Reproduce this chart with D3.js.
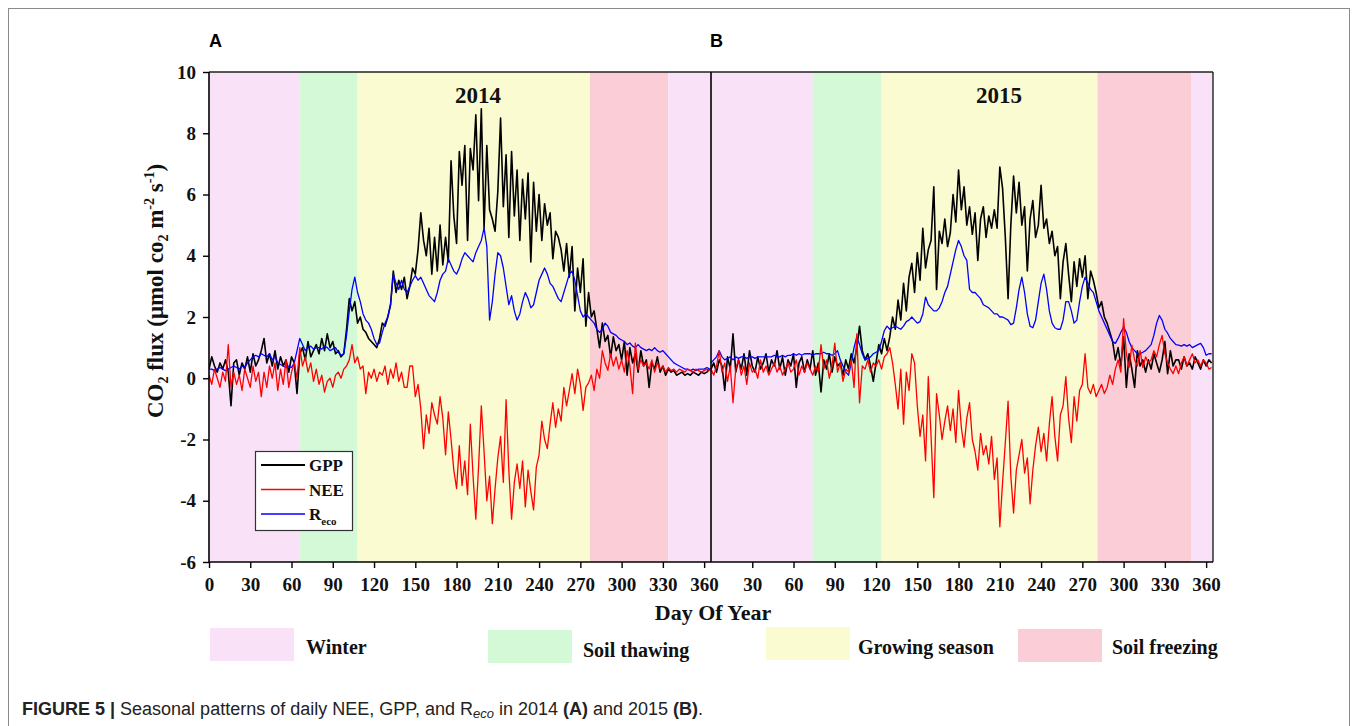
<!DOCTYPE html>
<html>
<head>
<meta charset="utf-8">
<script src="https://cdn.jsdelivr.net/npm/d3@7"></script>
<style>
  body { margin: 0; background: #fff; }
  svg { display: block; }
</style>
</head>
<body>
<svg id="chart" width="1357" height="726"></svg>
<script>
// ---- Daily CO2 fluxes (µmol CO2 m-2 s-1), sampled every second day of year ----
const sampleDays = d3.range(0, 366, 2);

const gpp2014 = [
  0.3,0.7,0.4,0.2,0.5,0.3,0.6,0.2,-0.9,0.5,
  0.6,0.1,0.5,0.3,0.7,0.2,0.8,0.4,0.6,0.9,
  1.3,0.5,0.8,0.4,0.9,0.3,0.7,0.4,0.6,0.2,
  0.7,0.5,-0.5,0.8,1.0,0.6,1.2,0.7,0.9,1.1,
  0.8,1.3,0.9,1.45,1.0,1.2,0.8,0.9,0.7,0.8,
  1.6,2.6,2.2,2.5,1.8,2.0,1.6,1.5,1.3,1.2,
  1.1,1.0,1.3,1.8,1.7,2.0,2.4,3.5,2.8,3.2,
  2.9,3.3,2.6,3.0,3.6,3.4,4.2,5.4,4.5,4.0,
  4.9,3.4,4.6,3.5,5.0,3.7,4.6,3.8,7.1,5.3,
  4.4,7.4,6.3,7.6,4.5,7.5,6.8,8.6,5.8,8.8,
  4.9,7.6,5.5,5.2,4.8,6.1,8.5,5.6,7.3,4.6,
  7.4,5.3,6.8,4.5,6.5,5.2,6.7,3.8,6.4,4.8,
  6.0,4.5,5.7,5.0,5.4,3.9,4.8,4.6,4.2,3.5,
  4.4,3.3,4.3,2.2,3.6,2.8,3.9,1.7,2.8,2.0,
  2.2,1.6,1.0,1.8,1.2,1.4,0.7,1.35,0.9,1.1,
  0.6,1.2,0.1,1.0,0.5,0.8,0.2,0.9,0.4,0.6,
  -0.3,0.5,0.3,0.7,0.2,0.4,0.1,0.3,0.2,0.25,
  0.1,0.15,0.2,0.1,0.15,0.1,0.2,0.15,0.1,0.2,
  0.15,0.2,0.3
];

const nee2014 = [
  0.1,-0.2,0.3,0.0,-0.3,0.2,-0.1,1.1,-0.3,0.2,
  -0.2,0.1,-0.4,0.3,0.0,-0.3,0.4,-0.1,0.2,-0.6,
  0.2,-0.3,0.4,0.0,0.5,-0.4,0.3,-0.2,0.6,-0.3,
  0.2,0.5,0.0,1.0,0.4,0.7,0.2,0.5,-0.1,0.3,
  -0.2,0.1,-0.45,-0.1,0.0,-0.3,0.1,0.2,0.0,0.3,
  0.4,0.6,1.1,0.5,0.7,0.3,0.4,-0.5,0.2,0.0,
  0.3,-0.1,0.2,0.1,0.4,-0.2,0.3,0.0,0.5,-0.1,
  0.2,-0.3,-0.3,0.4,0.4,-0.6,-0.2,-1.0,-2.3,-1.2,
  -1.8,-0.8,-1.2,-1.5,-0.6,-1.3,-2.5,-1.1,-2.0,-3.0,
  -3.6,-2.2,-3.5,-2.7,-3.8,-1.5,-3.2,-4.6,-2.9,-0.9,
  -2.4,-4.0,-3.2,-4.75,-3.6,-2.6,-1.9,-3.4,-0.7,-3.0,
  -4.6,-3.4,-2.8,-3.6,-2.7,-4.2,-3.0,-3.7,-4.3,-2.9,
  -2.5,-1.4,-2.0,-2.3,-1.5,-0.8,-1.6,-1.0,-1.4,-0.3,
  -0.9,-0.4,0.15,-0.5,0.3,-0.2,-1.05,-0.3,-0.15,0.1,
  -0.4,0.3,0.0,0.9,0.5,0.26,0.8,0.4,0.7,0.3,
  0.6,0.2,0.9,0.4,-0.5,1.15,0.3,0.6,0.4,0.5,
  0.3,0.6,0.2,0.5,0.3,0.4,0.2,0.35,0.25,0.3,
  0.2,0.3,0.25,0.2,0.3,0.25,0.2,0.3,0.25,0.2,
  0.25,0.3,0.25
];

const reco2014 = [
  0.3,0.3,0.25,0.3,0.35,0.3,0.25,0.3,0.35,0.4,
  0.35,0.3,0.4,0.35,0.5,0.6,0.7,0.75,0.7,0.8,
  0.75,0.7,0.8,0.6,0.7,0.5,0.45,0.4,0.35,0.4,
  0.35,0.5,0.9,1.3,1.1,0.9,1.0,1.05,0.95,1.0,
  1.0,0.95,1.05,1.0,0.9,0.95,1.0,0.85,0.75,0.8,
  1.4,2.2,2.9,3.3,2.8,2.5,2.1,1.9,1.8,1.6,
  1.3,1.1,1.15,1.5,1.8,2.0,2.4,3.4,3.1,2.9,
  3.2,2.9,2.8,3.0,3.2,3.35,3.2,3.3,3.1,2.9,
  2.7,2.6,2.5,2.8,3.2,3.4,3.5,3.9,3.7,3.5,
  3.4,3.6,3.9,4.1,4.0,3.9,3.8,4.1,4.3,4.5,
  4.9,4.3,1.9,2.5,3.4,4.1,4.0,3.6,3.0,2.4,
  2.7,2.2,1.9,2.1,2.5,2.8,2.6,2.3,2.4,2.8,
  3.2,3.4,3.6,3.4,3.1,3.0,2.8,2.6,2.5,2.8,
  3.1,3.4,3.5,3.2,2.7,2.2,2.0,2.1,2.0,1.9,
  1.8,1.6,1.5,1.6,1.8,1.7,1.5,1.45,1.4,1.3,
  1.25,1.2,1.1,1.15,1.05,1.0,1.1,1.0,0.95,0.9,
  0.95,0.9,1.0,0.9,0.85,0.9,0.8,0.7,0.6,0.5,
  0.45,0.4,0.35,0.3,0.3,0.25,0.3,0.25,0.3,0.3,
  0.3,0.35,0.3
];

const gpp2015 = [
  0.3,0.5,0.2,0.6,0.4,-0.4,0.7,0.3,1.45,0.2,
  0.6,0.3,0.8,0.1,0.9,0.4,0.2,0.7,0.3,0.5,
  0.8,0.2,0.6,0.4,0.9,0.3,0.7,0.1,0.6,0.4,
  0.8,-0.3,0.5,0.7,0.2,0.6,0.3,0.9,0.1,0.5,
  -0.45,0.6,0.3,0.8,0.2,0.7,0.4,0.5,0.1,0.6,
  0.3,0.8,0.5,1.0,1.7,0.9,0.6,0.8,0.4,-0.1,
  0.5,1.1,0.8,1.3,0.9,1.35,2.0,1.6,2.55,1.9,
  3.1,2.2,3.3,3.75,2.8,4.1,3.2,4.9,3.6,4.2,
  4.5,6.25,2.9,4.8,4.4,5.2,4.3,4.75,6.0,5.1,
  6.8,5.5,6.25,5.0,5.6,4.7,5.4,3.85,5.2,5.6,
  4.6,5.3,4.9,5.5,4.9,6.9,6.2,4.6,2.6,5.0,
  6.6,5.4,6.4,5.0,5.6,3.5,5.2,5.8,4.6,5.0,
  6.3,4.9,5.2,4.4,4.8,4.0,4.3,2.6,3.8,4.4,
  3.4,2.5,3.8,3.0,3.9,3.3,4.0,2.6,3.5,3.2,
  2.8,2.3,2.5,2.0,1.8,1.5,1.2,0.6,1.0,0.4,
  1.35,-0.3,0.8,0.3,-0.3,0.9,0.4,0.6,0.2,0.6,
  0.3,0.8,0.5,0.2,0.6,1.2,0.15,0.9,0.4,0.6,
  0.6,0.3,0.7,0.4,0.5,0.3,0.7,0.5,0.3,0.6,
  0.4,0.6,0.5
];

const nee2015 = [
  0.3,0.1,0.4,0.9,0.2,0.5,-0.1,0.4,-0.8,0.3,
  0.6,0.1,0.4,-0.2,0.5,0.2,0.3,0.0,0.6,0.2,
  0.4,0.1,0.3,0.5,0.2,0.4,0.1,0.3,0.5,0.2,
  0.3,0.6,0.1,0.4,0.2,0.5,0.3,0.1,0.4,0.2,
  1.1,0.3,0.6,0.0,0.4,1.15,0.2,0.5,-0.1,0.3,
  0.2,0.6,-0.3,1.45,-0.8,0.4,0.3,0.6,0.2,0.5,
  0.4,0.6,0.3,0.7,0.8,1.0,0.5,-0.2,-1.0,0.3,
  -1.5,0.2,-0.4,0.8,0.5,-0.9,-1.9,-1.2,-2.7,0.05,
  -1.9,-3.9,-0.5,-1.2,-2.0,-1.4,-0.9,-1.7,-1.0,-2.1,
  -0.4,-1.6,-2.25,-1.3,-0.8,-2.0,-2.4,-3.0,-1.8,-2.5,
  -2.2,-2.8,-1.9,-3.3,-2.6,-4.85,-3.4,-2.1,-0.75,-3.2,
  -4.4,-3.0,-2.5,-2.0,-3.1,-2.6,-4.1,-3.0,-2.2,-1.6,
  -2.4,-1.8,-2.7,-1.5,-0.6,-1.9,-2.7,-1.2,-0.9,0.05,
  -1.3,-2.1,-0.6,-1.4,-0.4,-0.2,0.8,-0.3,-0.5,-0.2,
  -0.6,-0.4,-0.2,-0.5,-0.3,0.1,-0.2,0.3,0.6,0.2,
  1.95,0.8,0.35,1.08,0.6,0.4,0.9,0.35,0.7,0.5,
  0.6,0.9,0.7,1.1,1.4,0.8,0.5,0.3,0.15,0.4,
  0.15,0.5,0.7,0.4,0.6,0.8,0.5,0.6,0.4,0.6,
  0.5,0.3,0.35
];

const reco2015 = [
  0.5,0.6,0.7,0.9,0.7,0.6,0.65,0.7,0.6,0.7,
  0.65,0.7,0.7,0.65,0.7,0.7,0.65,0.7,0.7,0.7,
  0.7,0.7,0.7,0.75,0.7,0.7,0.75,0.7,0.75,0.75,
  0.8,0.75,0.8,0.75,0.8,0.8,0.8,0.75,0.8,0.8,
  0.8,0.85,0.8,0.8,0.75,0.8,0.9,0.6,0.4,0.2,
  0.1,0.5,1.0,1.35,1.1,0.8,0.6,0.65,0.7,0.8,
  0.85,0.9,1.2,1.55,1.7,1.6,1.65,1.7,1.65,1.6,
  1.7,1.85,1.9,2.0,1.9,1.8,1.85,2.1,2.65,2.4,
  2.3,2.2,2.2,2.3,2.5,2.8,3.0,3.4,3.8,4.2,
  4.5,4.3,4.0,3.85,2.9,2.8,2.8,2.7,2.6,2.4,
  2.35,2.3,2.2,2.1,2.1,2.0,2.0,1.95,1.9,1.75,
  1.8,2.3,2.9,3.3,2.8,2.1,1.7,1.65,1.9,2.5,
  3.1,3.4,2.9,2.2,1.8,1.65,1.6,1.6,1.9,2.5,
  2.5,2.2,1.8,1.9,2.5,3.0,3.3,3.1,2.9,2.8,
  2.5,2.2,2.0,1.8,1.6,1.4,1.2,1.14,1.3,1.5,
  1.67,1.5,1.2,1.0,0.9,0.8,0.8,0.85,0.9,1.0,
  1.1,1.4,1.8,2.05,1.9,1.6,1.47,1.3,1.2,1.1,
  1.08,1.05,1.1,1.05,1.1,1.0,1.05,1.1,1.14,1.0,
  0.75,0.8,0.8
];

// ---- Seasonal periods (day-of-year boundaries) ----
const seasonNames = ["Winter", "Soil thawing", "Growing season", "Soil freezing", "Winter"];
const seasonBounds2014 = [0, 66, 108, 277, 334, 365];
const seasonBounds2015 = [0, 74, 124, 281, 349, 365];
const legendSeasons = ["Winter", "Soil thawing", "Growing season", "Soil freezing"];

// ---- Axis ticks ----
const yTicks = [-6, -4, -2, 0, 2, 4, 6, 8, 10];
const xTicksA = [0, 30, 60, 90, 120, 150, 180, 210, 240, 270, 300, 330, 360];
const xTicksB = [30, 60, 90, 120, 150, 180, 210, 240, 270, 300, 330, 360];

// ---- Styling ----
const seasonColor = {
  "Winter": "#f9e1f8",
  "Soil thawing": "#d3f9d6",
  "Growing season": "#fafbd0",
  "Soil freezing": "#fbcdd6"
};
const SERIF = "'Liberation Serif','Times New Roman',serif";
const SANS = "'Liberation Sans',Arial,Helvetica,sans-serif";
const plainNumber = d => String(d);   // hyphen-minus, as in the printed figure

const svg = d3.select("#chart");

const plot = { left: 209, mid: 711, right: 1213, top: 72, bottom: 562 };

const y = d3.scaleLinear().domain([-6, 10]).range([plot.bottom, plot.top]);
const xA = d3.scaleLinear().domain([0, 365]).range([plot.left, plot.mid]);
const xB = d3.scaleLinear().domain([0, 365]).range([plot.mid, plot.right]);

// outer figure frame
svg.append("rect")
  .attr("x", 8.5).attr("y", 8.5)
  .attr("width", 1341).attr("height", 740)
  .attr("fill", "none").attr("stroke", "#8a8a8a").attr("stroke-width", 1);

// clip path for the data area
svg.append("defs").append("clipPath").attr("id", "plotClip")
  .append("rect")
  .attr("x", plot.left).attr("y", plot.top)
  .attr("width", plot.right - plot.left).attr("height", plot.bottom - plot.top);

function drawPanel(xScale, bounds, gpp, nee, reco) {
  const g = svg.append("g");
  // season bands
  const bands = seasonNames.map((name, i) => ({ name, start: bounds[i], end: bounds[i + 1] }));
  g.selectAll("rect.band").data(bands).join("rect")
    .attr("class", "band")
    .attr("x", d => xScale(d.start))
    .attr("y", plot.top)
    .attr("width", d => xScale(d.end) - xScale(d.start))
    .attr("height", plot.bottom - plot.top)
    .attr("fill", d => seasonColor[d.name]);

  const lines = g.append("g").attr("clip-path", "url(#plotClip)");
  const makeLine = vals => d3.line()
    .x((v, i) => xScale(sampleDays[i]))
    .y(v => y(v))(vals);

  lines.append("path").attr("d", makeLine(gpp))
    .attr("fill", "none").attr("stroke", "#000").attr("stroke-width", 1.6)
    .attr("stroke-linejoin", "round");
  lines.append("path").attr("d", makeLine(reco))
    .attr("fill", "none").attr("stroke", "#0000ff").attr("stroke-width", 1.3)
    .attr("stroke-linejoin", "round");
  lines.append("path").attr("d", makeLine(nee))
    .attr("fill", "none").attr("stroke", "#ff0000").attr("stroke-width", 1.3)
    .attr("stroke-linejoin", "round");
}

drawPanel(xA, seasonBounds2014, gpp2014, nee2014, reco2014);
drawPanel(xB, seasonBounds2015, gpp2015, nee2015, reco2015);

// frame lines
const frame = svg.append("g").attr("stroke", "#222").attr("stroke-width", 1.4);
frame.append("line").attr("x1", plot.left).attr("x2", plot.right).attr("y1", plot.top).attr("y2", plot.top);
frame.append("line").attr("x1", plot.right).attr("x2", plot.right).attr("y1", plot.top).attr("y2", plot.bottom);
frame.append("line").attr("x1", plot.mid).attr("x2", plot.mid).attr("y1", plot.top).attr("y2", plot.bottom)
  .attr("stroke", "#000").attr("stroke-width", 1.6);
frame.append("line").attr("x1", plot.left).attr("x2", plot.right).attr("y1", plot.bottom).attr("y2", plot.bottom)
  .attr("stroke", "#000").attr("stroke-width", 1.6);

// axes
function styleAxis(sel) {
  sel.selectAll("text")
    .attr("font-family", SERIF).attr("font-weight", "bold").attr("font-size", 19).attr("fill", "#111");
  sel.selectAll("line").attr("stroke", "#000").attr("stroke-width", 1.4);
  sel.select(".domain").remove();
}

const yAxis = svg.append("g").attr("transform", `translate(${plot.left},0)`)
  .call(d3.axisLeft(y).tickValues(yTicks).tickSize(6).tickPadding(7).tickFormat(plainNumber));
styleAxis(yAxis);
svg.append("line").attr("x1", plot.left).attr("x2", plot.left)
  .attr("y1", plot.top).attr("y2", plot.bottom).attr("stroke", "#000").attr("stroke-width", 1.6);

const xAxisA = svg.append("g").attr("transform", `translate(0,${plot.bottom})`)
  .call(d3.axisBottom(xA).tickValues(xTicksA).tickSize(6).tickPadding(10).tickFormat(plainNumber));
styleAxis(xAxisA);
const xAxisB = svg.append("g").attr("transform", `translate(0,${plot.bottom})`)
  .call(d3.axisBottom(xB).tickValues(xTicksB).tickSize(6).tickPadding(10).tickFormat(plainNumber));
styleAxis(xAxisB);

// axis titles
svg.append("text")
  .attr("x", 713).attr("y", 620)
  .attr("text-anchor", "middle")
  .attr("font-family", SERIF).attr("font-weight", "bold").attr("font-size", 22)
  .attr("fill", "#111")
  .text("Day Of Year");

const yTitle = svg.append("text")
  .attr("transform", "translate(163,291) rotate(-90)")
  .attr("text-anchor", "middle")
  .attr("font-family", SERIF).attr("font-weight", "bold").attr("font-size", 23)
  .attr("fill", "#111");
yTitle.append("tspan").text("CO");
yTitle.append("tspan").attr("font-size", 14).attr("dy", 5).text("2");
yTitle.append("tspan").attr("dy", -5).text(" flux (μmol co");
yTitle.append("tspan").attr("font-size", 14).attr("dy", 5).text("2");
yTitle.append("tspan").attr("dy", -5).text(" m");
yTitle.append("tspan").attr("font-size", 14).attr("dy", -9).text("-2");
yTitle.append("tspan").attr("dy", 9).text(" s");
yTitle.append("tspan").attr("font-size", 14).attr("dy", -9).text("-1");
yTitle.append("tspan").attr("dy", 9).text(")");

// year titles
[["2014", 478], ["2015", 999]].forEach(([label, cx]) => {
  svg.append("text")
    .attr("x", cx).attr("y", 103)
    .attr("text-anchor", "middle")
    .attr("font-family", SERIF).attr("font-weight", "bold").attr("font-size", 23)
    .attr("fill", "#111")
    .text(label);
});

// panel letters
[["A", 209], ["B", 710]].forEach(([label, lx]) => {
  svg.append("text")
    .attr("x", lx).attr("y", 47)
    .attr("font-family", SANS).attr("font-weight", "bold").attr("font-size", 18)
    .attr("fill", "#000")
    .text(label);
});

// series legend
const seriesLegend = [
  { key: "GPP", color: "#000", width: 1.8 },
  { key: "NEE", color: "#ff0000", width: 1.4 },
  { key: "R", sub: "eco", color: "#0000ff", width: 1.4 }
];
const lg = svg.append("g");
lg.append("rect")
  .attr("x", 255.5).attr("y", 451.5).attr("width", 97).attr("height", 79)
  .attr("fill", "#fff").attr("stroke", "#333").attr("stroke-width", 1.2);
seriesLegend.forEach((s, i) => {
  const cy = 465 + i * 24.5;
  lg.append("line").attr("x1", 261).attr("x2", 305).attr("y1", cy).attr("y2", cy)
    .attr("stroke", s.color).attr("stroke-width", s.width);
  const t = lg.append("text").attr("x", 309).attr("y", cy + 6)
    .attr("font-family", SERIF).attr("font-weight", "bold").attr("font-size", 17).attr("fill", "#111");
  t.append("tspan").text(s.key);
  if (s.sub) t.append("tspan").attr("font-size", 11).attr("dy", 5).text(s.sub);
});

// season legend
const swatchPos = [
  { x: 210, y: 628, tx: 306, ty: 654 },
  { x: 488, y: 630, tx: 583, ty: 657 },
  { x: 766, y: 627, tx: 858, ty: 654 },
  { x: 1018, y: 629, tx: 1112, ty: 654 }
];
legendSeasons.forEach((name, i) => {
  const p = swatchPos[i];
  svg.append("rect").attr("x", p.x).attr("y", p.y).attr("width", 84).attr("height", 33)
    .attr("fill", seasonColor[name]);
  svg.append("text").attr("x", p.tx).attr("y", p.ty)
    .attr("font-family", SERIF).attr("font-weight", "bold").attr("font-size", 20).attr("fill", "#111")
    .text(name);
});

// caption
const cap = svg.append("text")
  .attr("x", 22).attr("y", 715)
  .attr("font-family", SANS)
  .attr("font-size", 18).attr("fill", "#222");
cap.append("tspan").attr("font-weight", "bold").text("FIGURE 5 |");
cap.append("tspan").text(" Seasonal patterns of daily NEE, GPP, and R");
cap.append("tspan").attr("font-style", "italic").attr("font-size", 13).attr("dy", 3).text("eco");
cap.append("tspan").attr("dy", -3).text(" in 2014 ");
cap.append("tspan").attr("font-weight", "bold").text("(A)");
cap.append("tspan").text(" and 2015 ");
cap.append("tspan").attr("font-weight", "bold").text("(B)");
cap.append("tspan").text(".");
</script>
</body>
</html>
